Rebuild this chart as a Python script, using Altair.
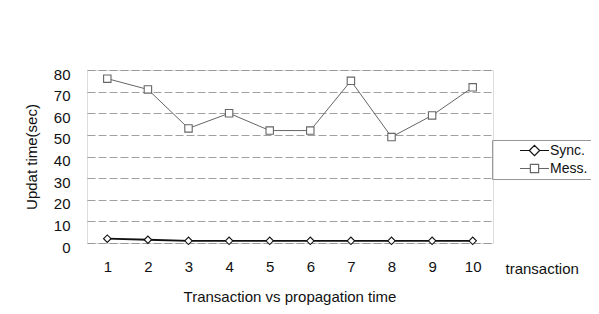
import altair as alt
import pandas as pd

transactions = [1, 2, 3, 4, 5, 6, 7, 8, 9, 10]
sync_vals = [2, 1.5, 1, 1, 1, 1, 1, 1, 1, 1]
mess_vals = [76, 71, 53, 60, 52, 52, 75, 49, 59, 72]
series = ["Sync.", "Mess."]
y_ticks = [0, 10, 20, 30, 40, 50, 60, 70, 80]

rows = []
for t, s, m in zip(transactions, sync_vals, mess_vals):
    rows.append({"transaction": t, "series": "Sync.", "value": s})
    rows.append({"transaction": t, "series": "Mess.", "value": m})
df = pd.DataFrame(rows)

FONT = "Liberation Sans"
STROKES = ["#111111", "#666666"]

# legend glyphs: line - marker - line
LEG_DIAMOND = "M-2.1,0 L-0.75,0 M0.75,0 L2.1,0 M0,-0.75 L0.75,0 L0,0.75 L-0.75,0 Z"
LEG_SQUARE = "M-2.1,0 L-0.6,0 M0.6,0 L2.1,0 M-0.6,-0.6 L0.6,-0.6 L0.6,0.6 L-0.6,0.6 Z"

x_enc = alt.X("transaction:O",
              scale=alt.Scale(type="point", padding=0.5),
              axis=alt.Axis(title="transaction", labelAngle=0, domain=False, ticks=False,
                            grid=False, labelPadding=16, labelFontSize=15, labelColor="#111",
                            labelFont=FONT, titleFont=FONT, titleFontSize=15,
                            titleFontWeight="normal", titleAnchor="start", titleAlign="left",
                            titleBaseline="middle", titleX=418, titleY=25, titleColor="#111"))
y_enc = alt.Y("value:Q",
              scale=alt.Scale(domain=[0, 80], nice=False),
              axis=alt.Axis(title="Updat time(sec)", values=y_ticks, domain=False, ticks=False,
                            grid=True, gridDash=[8, 3], gridColor="#888", gridWidth=0.8,
                            labelPadding=17, labelFontSize=15, labelColor="#111", labelFont=FONT,
                            labelOffset=4, titleFont=FONT, titleFontSize=15,
                            titleFontWeight="normal", titleColor="#111", titlePadding=14))

lines = alt.Chart(df).mark_line().encode(
    x=x_enc, y=y_enc,
    stroke=alt.Stroke("series:N", scale=alt.Scale(domain=series, range=STROKES), legend=None),
    strokeWidth=alt.StrokeWidth("series:N", scale=alt.Scale(domain=series, range=[1.8, 1.0]),
                                legend=None),
)

points = alt.Chart(df).mark_point(filled=False, fill="white", size=55, strokeWidth=1.1,
                                  opacity=1).encode(
    x=x_enc, y=y_enc,
    stroke=alt.Stroke("series:N", scale=alt.Scale(domain=series, range=STROKES), legend=None),
    shape=alt.Shape("series:N", scale=alt.Scale(domain=series, range=["diamond", "square"]),
                    legend=None),
)

legend_spec = alt.Legend(title=None, orient="none", legendX=405, legendY=70,
                         labelFont=FONT, labelFontSize=14, labelColor="#111",
                         strokeColor="#999", padding=3,
                         symbolSize=190, symbolFillColor="white", symbolOpacity=1,
                         symbolStrokeWidth=1.2, labelOffset=8,
                         symbolOffset=32, rowPadding=2)

legend_layer = alt.Chart(df).transform_filter("datum.value < 0").mark_point(
    filled=False, fill="white", strokeWidth=1.2, opacity=1
).encode(
    x=x_enc, y=y_enc,
    stroke=alt.Stroke("series:N", scale=alt.Scale(domain=series, range=STROKES),
                      legend=legend_spec),
    shape=alt.Shape("series:N", scale=alt.Scale(domain=series, range=[LEG_DIAMOND, LEG_SQUARE]),
                    legend=legend_spec),
)

chart = alt.layer(lines, points, legend_layer).resolve_scale(
    shape="independent", stroke="independent"
).properties(
    width=406, height=173,
    title=alt.TitleParams("Transaction vs propagation time", orient="bottom", anchor="middle",
                          font=FONT, fontSize=15, fontWeight="normal", color="#111", offset=14),
    autosize=alt.AutoSizeParams(type="none"),
    padding={"left": 79, "top": 62, "right": 98, "bottom": 76},
).configure_view(stroke="#999", strokeDash=[4, 2], strokeWidth=1).configure(background="white")

chart.save("out.html", embed_options={"renderer": "svg", "actions": False})
